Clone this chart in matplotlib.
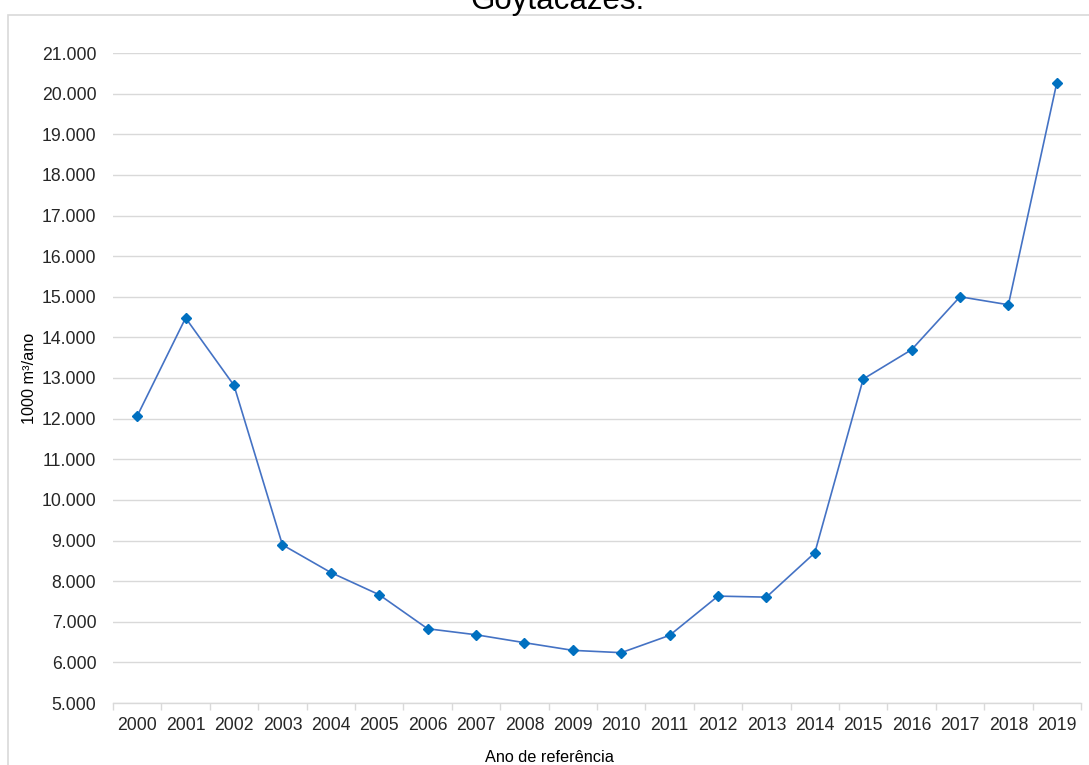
import matplotlib.pyplot as plt
from matplotlib.patches import Rectangle
from matplotlib.ticker import FuncFormatter, MultipleLocator
import numpy as np

plt.rcParams['font.family'] = ['Liberation Sans', 'DejaVu Sans']

# Volume anual (1000 m³/ano) por ano de referência
anos = list(range(2000, 2020))
volume = [12064, 14478, 12818, 8894, 8212, 7665, 6828, 6680, 6485, 6296,
          6239, 6665, 7631, 7606, 8697, 12975, 13697, 15000, 14803, 20268]

titulo = "Goytacazes."
rotulo_x = "Ano de referência"
rotulo_y = "1000 m³/ano"

W, H = 1089, 765
fig = plt.figure(figsize=(W / 100, H / 100), dpi=100)

# moldura cinza do gráfico
fig.patches.append(Rectangle((8 / W, -0.2), 1.5, 1.2 - 15 / H + 0.0,
                             transform=fig.transFigure, fill=False,
                             edgecolor='#d9d9d9', lw=1.2))

ax = fig.add_axes([113 / W, 1 - 703 / H, (1081 - 113) / W, (703 - 53) / H])

x = np.arange(len(anos))
ax.plot(x, volume, color='#4472C4', lw=1.2, marker='D', markersize=5,
        markerfacecolor='#0070C0', markeredgecolor='#0070C0', zorder=3)

ax.set_xlim(-0.5, len(anos) - 0.5)
ax.set_ylim(5000, 21000)
ax.yaxis.set_major_locator(MultipleLocator(1000))
ax.yaxis.set_major_formatter(FuncFormatter(lambda v, p: f"{v:,.0f}".replace(',', '.')))
ax.grid(axis='y', color='#d9d9d9', lw=1.0)
ax.set_axisbelow(True)

ax.set_xticks(x)
ax.set_xticklabels([str(a) for a in anos])
ax.set_xticks(np.arange(-0.5, len(anos)), minor=True)
ax.tick_params(axis='x', which='major', length=0, pad=10, labelsize=12.7, colors='#262626')
ax.tick_params(axis='x', which='minor', length=5, color='#d9d9d9', width=1)
ax.tick_params(axis='y', length=0, pad=12, labelsize=12.7, colors='#262626')

for s in ['top', 'right', 'left']:
    ax.spines[s].set_visible(False)
ax.spines['bottom'].set_color('#d9d9d9')
ax.spines['bottom'].set_linewidth(1.0)

fig.text(557 / W, 1 - 9 / H, titulo, ha='center', va='baseline', fontsize=22.5, color='#000000')
fig.text(549 / W, 1 - 757 / H, rotulo_x, ha='center', va='center', fontsize=11.7, color='#000000')
fig.text(29 / W, 1 - 378 / H, rotulo_y, ha='center', va='center', rotation=90,
         fontsize=11.7, color='#000000')

fig.savefig('out.png', dpi=100)
